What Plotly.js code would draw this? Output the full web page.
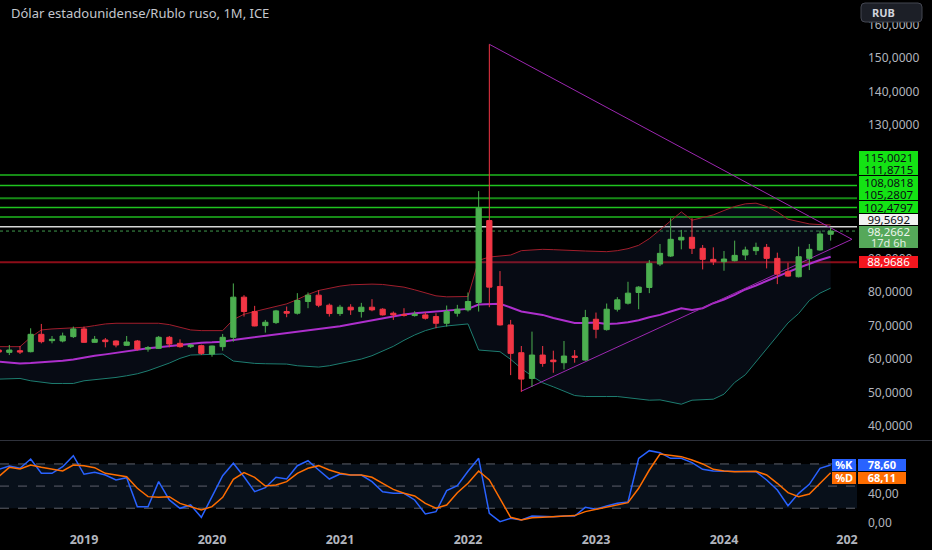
<!DOCTYPE html>
<html><head><meta charset="utf-8">
<script src="https://cdn.plot.ly/plotly-3.0.1.min.js"></script>
<style>html,body{margin:0;padding:0;background:#000;}#chart{width:932px;height:550px;}</style>
</head><body><div id="chart"></div>
<script>
// ---------- DATA ----------
const title = 'Dólar estadounidense/Rublo ruso, 1M, ICE';
const months = [
 '2018-05','2018-06','2018-07','2018-08','2018-09','2018-10','2018-11','2018-12',
 '2019-01','2019-02','2019-03','2019-04','2019-05','2019-06','2019-07','2019-08','2019-09','2019-10','2019-11','2019-12',
 '2020-01','2020-02','2020-03','2020-04','2020-05','2020-06','2020-07','2020-08','2020-09','2020-10','2020-11','2020-12',
 '2021-01','2021-02','2021-03','2021-04','2021-05','2021-06','2021-07','2021-08','2021-09','2021-10','2021-11','2021-12',
 '2022-01','2022-02','2022-03','2022-04','2022-05','2022-06','2022-07','2022-08','2022-09','2022-10','2022-11','2022-12',
 '2023-01','2023-02','2023-03','2023-04','2023-05','2023-06','2023-07','2023-08','2023-09','2023-10','2023-11','2023-12',
 '2024-01','2024-02','2024-03','2024-04','2024-05','2024-06','2024-07','2024-08','2024-09','2024-10','2024-11'];
const open = [
 62.7,62.0,62.5,62.2,67.4,65.5,65.4,66.7,
 69.0,65.0,65.7,65.4,64.1,65.4,63.0,63.2,66.5,64.7,63.7,64.0,
 61.5,63.7,66.5,78.5,74.2,70.0,70.9,74.2,73.7,77.2,79.1,76.1,
 73.6,75.5,74.2,75.5,74.9,73.7,73.3,73.0,73.2,72.7,70.7,73.7,
 74.7,76.9,101.4,81.7,70.2,61.9,54.2,61.2,59.7,58.9,60.9,59.7,
 71.9,68.8,74.9,76.7,79.9,81.4,88.4,90.8,95.6,96.4,93.1,89.8,
 89.1,89.4,91.1,92.4,93.4,90.1,86.1,84.6,90.1,92.6,97.3];
const high = [
 63.0,64.2,63.9,69.2,70.5,66.9,67.9,69.7,
 69.7,66.9,66.3,65.6,66.9,65.7,63.9,66.9,66.9,65.9,64.5,64.3,
 64.0,67.5,82.6,79.1,75.9,71.7,74.7,75.7,79.7,79.9,80.6,76.6,
 76.2,76.4,76.8,77.9,75.2,74.2,75.2,74.3,74.0,73.7,76.0,76.2,
 79.9,110.2,154.1,86.3,71.7,63.9,68.2,63.9,62.5,65.4,62.7,74.7,
 73.9,76.6,78.5,83.1,81.8,89.6,94.4,102.1,98.6,102.1,94.1,93.4,
 92.3,95.4,93.6,94.8,94.4,91.8,88.8,93.6,94.4,98.4,99.4];
const low = [
 61.8,61.2,61.5,62.0,64.7,64.7,65.0,66.3,
 64.9,64.9,63.5,63.5,63.9,62.5,62.2,63.0,63.5,63.4,63.3,61.2,
 60.7,62.5,65.2,72.7,69.8,67.9,70.5,72.5,73.3,75.2,75.5,72.7,
 72.9,73.2,72.4,74.3,73.0,71.7,72.7,72.7,71.8,69.2,69.7,72.7,
 74.2,74.2,75.5,70.0,55.2,50.2,51.7,57.7,55.9,56.9,58.9,59.5,
 66.2,68.5,74.2,76.3,74.9,79.7,87.8,90.5,92.8,91.4,86.8,88.1,
 86.4,89.2,89.6,91.1,87.1,82.4,84.6,84.4,86.6,92.4,95.4];
const close = [
 62.1,62.7,62.1,67.4,65.2,65.9,66.9,69.0,
 65.0,65.9,65.2,64.2,65.1,63.0,63.4,66.5,64.5,63.7,64.2,61.7,
 63.9,66.5,78.5,74.2,69.9,71.0,74.4,73.7,77.5,79.1,76.1,73.6,
 75.5,74.7,75.5,74.7,73.2,73.2,73.1,73.4,72.2,70.7,74.2,74.9,
 77.2,105.1,81.5,70.2,61.7,54.0,61.2,58.7,59.2,60.9,60.5,72.4,
 68.9,74.9,77.7,79.7,81.5,88.6,91.6,95.8,96.4,93.1,89.8,89.1,
 89.9,91.0,92.6,93.4,90.1,85.4,84.8,90.6,92.8,97.4,98.2662];
const bbUpper = [
 63.7,63.7,63.7,66.5,68.7,69.0,69.2,69.2,
 69.5,70.0,70.5,70.7,70.7,70.7,70.7,70.7,70.3,69.5,68.7,68.5,
 68.4,68.5,71.8,73.4,74.2,74.9,75.7,76.5,77.8,79.3,80.5,81.2,
 81.8,82.2,82.4,82.4,82.3,82.0,81.5,80.7,79.8,78.9,78.6,78.6,
 78.7,89.5,90.5,90.8,91.1,92.4,92.7,92.8,92.7,92.5,92.4,92.3,
 92.2,92.1,92.4,93.0,94.0,96.0,98.6,101.2,104.0,101.5,102.3,103.1,
 104.4,105.6,106.4,106.6,105.6,104.0,101.8,101.0,100.4,100.2,100.1];
const bbBasis = [
 59.2,59.0,58.7,58.8,59.0,59.2,59.5,59.9,
 60.5,61.0,61.4,61.9,62.4,62.8,63.2,63.5,63.9,64.3,64.7,64.9,
 65.0,65.2,65.7,66.1,66.6,67.0,67.3,67.7,68.0,68.6,69.0,69.2,
 69.8,70.4,71.0,71.5,72.2,72.8,73.3,73.7,74.0,74.3,74.6,74.8,
 75.0,76.3,76.5,76.5,75.4,74.2,73.7,73.2,72.3,71.6,70.8,70.8,
 70.9,70.5,70.6,71.0,71.6,72.5,73.2,74.2,75.2,74.7,75.2,76.7,
 77.8,79.2,80.8,82.0,83.4,84.7,86.0,87.3,88.5,89.6,90.6];
const bbLower = [
 54.0,54.1,54.2,53.5,53.0,52.7,52.7,52.7,
 53.5,53.8,54.2,54.5,55.0,55.6,56.5,57.6,58.8,60.2,61.2,61.3,
 61.4,61.5,59.4,59.0,58.7,58.6,58.5,58.5,58.0,57.8,57.6,58.0,
 58.6,59.3,60.0,61.0,62.4,63.8,65.6,67.2,68.5,69.4,69.9,70.2,
 70.5,62.7,62.4,62.2,59.9,57.2,54.9,52.9,51.7,50.5,49.1,48.8,
 48.9,48.8,48.8,48.5,48.0,47.7,47.8,47.2,46.5,47.7,47.9,48.0,
 49.5,53.0,55.3,59.2,63.0,66.7,70.8,73.6,77.5,79.7,81.2];
const stochK = [
 72.7,77.2,74.1,86.7,67.3,67.3,76.3,91.2,
 66.0,68.7,65.0,58.3,61.4,22.1,22.1,56.0,31.2,19.9,24.4,7.7,
 35.6,64.1,80.9,62.7,42.4,47.8,61.9,59.6,77.6,84.4,71.8,59.6,
 66.4,65.0,65.0,56.0,42.4,40.2,40.2,31.2,12.2,15.3,43.8,50.5,
 70.0,87.6,13.0,1.8,6.3,4.1,9.5,8.6,8.6,9.5,9.5,21.2,
 18.5,23.0,26.6,28.5,87.6,98.0,95.3,87.6,87.6,81.8,72.7,70.5,
 70.5,69.6,70.5,69.6,58.3,44.7,23.5,40.2,52.4,74.1,78.60];
const stochD = [
 62.8,75.4,73.2,78.6,75.4,73.2,70.5,78.6,
 77.7,75.0,67.3,65.0,62.8,47.0,35.7,34.8,35.7,26.6,22.1,17.6,
 22.1,34.8,59.2,68.2,61.9,50.1,51.5,56.0,67.3,74.1,77.7,71.8,
 67.3,65.0,65.0,61.9,53.8,45.6,40.2,36.6,26.6,19.9,24.4,41.1,
 53.8,70.5,58.3,33.4,7.7,4.1,7.2,7.7,8.6,9.5,10.0,15.4,
 18.5,20.8,24.4,27.6,47.0,71.8,93.5,92.1,89.9,85.4,80.0,72.7,
 70.5,69.6,70.0,70.0,65.0,53.8,41.1,35.7,39.3,53.8,68.11];
const stochLevels = [20, 50, 80];
const stochTicks = [0, 40];
const priceTicks = [40, 50, 60, 70, 80, 90, 130, 140, 150, 160];
const greenLevels = [115.0021, 111.8715, 108.0818, 105.2807, 102.4797];
const whiteLevel = 99.5692;
const redLevel = 88.9686;
const lastPrice = 98.2662;
const countdown = '17d 6h';
const currency = 'RUB';
// triangle drawing: [month, price]
const triMonths = ['2022-03', '2025-01', '2022-06'];
const triPrices = [154.1, 95.8, 50.4];
const yearLabels = ['2019','2020','2021','2022','2023','2024','202'];

// ---------- HELPERS ----------
const mIdx = s => { const [y, m] = s.split('-').map(Number); return (y - 2019) * 12 + (m - 1); };
const xs = months.map(mIdx);
const fmt = (v, d) => v.toFixed(d).replace('.', ',');
const W = 932, H = 550, ML = 0, MR = 75, MT = 0, MB = 20;
const PW = W - ML - MR, PH = H - MT - MB;
const PX = px => (px - ML) / PW;
const PY = py => (PH + MT - py) / PH;
const FONT = "'Noto Sans', 'DejaVu Sans', sans-serif";
const GREEN = '#4caf50', RED = '#f23645';

const priceRange = [35.80, 167.34];
const stochRange = [-9.5, 111.1];
const xRange = [-7.875, 72.47];

const traces = [
  {x: xs, y: bbLower, type: 'scatter', mode: 'lines', line: {color: '#1d7d70', width: 1}, hoverinfo: 'skip'},
  {x: xs, y: bbUpper, type: 'scatter', mode: 'lines', fill: 'tonexty', fillcolor: 'rgba(40,60,110,0.18)',
   line: {color: '#a11e2c', width: 1}, hoverinfo: 'skip'},
  {x: xs, y: bbBasis, type: 'scatter', mode: 'lines', line: {color: '#ad2fcc', width: 2}, hoverinfo: 'skip'},
  {x: triMonths.map(mIdx), y: triPrices, type: 'scatter', mode: 'lines', line: {color: '#9c27b0', width: 1}, hoverinfo: 'skip'},
  {x: xs, open: open, high: high, low: low, close: close, type: 'candlestick', yaxis: 'y3',
   increasing: {line: {color: GREEN, width: 1}, fillcolor: GREEN},
   decreasing: {line: {color: RED, width: 1}, fillcolor: RED},
   whiskerwidth: 0, hoverinfo: 'skip'},
  {x: xs, y: stochK, yaxis: 'y2', type: 'scatter', mode: 'lines', line: {color: '#2962ff', width: 1.5}, hoverinfo: 'skip'},
  {x: xs, y: stochD, yaxis: 'y2', type: 'scatter', mode: 'lines', line: {color: '#ff6d00', width: 1.5}, hoverinfo: 'skip'}
];

const shapes = [];
shapes.push({type: 'rect', xref: 'paper', x0: 0, x1: 1, yref: 'y2', y0: stochLevels[0], y1: stochLevels[2],
  fillcolor: '#08101a', line: {width: 0}, layer: 'below'});
stochLevels.forEach(v => shapes.push({type: 'line', xref: 'paper', x0: 0, x1: 1, yref: 'y2', y0: v, y1: v,
  line: {color: '#5d606b', width: 1, dash: 'dash'}, layer: 'below'}));
greenLevels.forEach((v, i) => shapes.push({type: 'line', xref: 'paper', x0: 0, x1: 1, yref: 'y', y0: v, y1: v,
  line: {color: i % 2 === 0 ? '#168a16' : '#1fc41f', width: i % 2 === 0 ? 2 : 1.5}, layer: 'below'}));
shapes.push({type: 'line', xref: 'paper', x0: 0, x1: 1, yref: 'y', y0: redLevel, y1: redLevel,
  line: {color: '#8c0d18', width: 2}, layer: 'below'});
shapes.push({type: 'line', xref: 'paper', x0: 0, x1: 1, yref: 'y', y0: whiteLevel, y1: whiteLevel,
  line: {color: '#d6d6d6', width: 1.5}, layer: 'below'});
shapes.push({type: 'line', xref: 'paper', x0: 0, x1: 1, yref: 'y', y0: lastPrice, y1: lastPrice,
  line: {color: '#3f9a4c', width: 1, dash: 'dot'}, layer: 'below'});
shapes.push({type: 'line', xref: 'paper', yref: 'paper', x0: 0, x1: PX(W), y0: PY(440.5), y1: PY(440.5),
  line: {color: '#2f323c', width: 1}, layer: 'above'});
(function () {
  const x0 = 861, x1 = 922, y0 = 3, y1 = 22, r = 4;
  const p = (a, b) => PX(a) + ',' + PY(b);
  const path = `M ${p(x0 + r, y0)} L ${p(x1 - r, y0)} Q ${p(x1, y0)} ${p(x1, y0 + r)} L ${p(x1, y1 - r)} Q ${p(x1, y1)} ${p(x1 - r, y1)} L ${p(x0 + r, y1)} Q ${p(x0, y1)} ${p(x0, y1 - r)} L ${p(x0, y0 + r)} Q ${p(x0, y0)} ${p(x0 + r, y0)} Z`;
  shapes.push({type: 'path', xref: 'paper', yref: 'paper', path: path, fillcolor: '#1c1f27',
    line: {color: '#434651', width: 1}, layer: 'above'});
})();

const annotations = [];
const box = (text, cx, cy, w, h, bg, color, size, weight) => annotations.push({
  xref: 'paper', yref: 'paper', x: PX(cx), y: PY(cy), xanchor: 'center', yanchor: 'middle',
  text: text, showarrow: false, bgcolor: bg, width: w, height: h, borderpad: 0, borderwidth: 0,
  align: 'center', valign: 'middle',
  font: {family: FONT, size: size || 11.5, color: color, weight: weight || 'normal'}
});
annotations.push({xref: 'paper', yref: 'paper', x: PX(9), y: PY(12.5), xanchor: 'left', yanchor: 'middle',
  text: title, showarrow: false, font: {family: FONT, size: 13, color: '#c3c6cd'}});
annotations.push({xref: 'paper', yref: 'paper', x: PX(883.5), y: PY(12.5), xanchor: 'center', yanchor: 'middle',
  text: currency, showarrow: false, font: {family: FONT, size: 11, color: '#d1d4dc', weight: 'bold'}});
greenLevels.forEach((v, i) => box(fmt(v, 4), 888, 157 + 12.4 * i, 59.4, 12.4, '#14e314', '#0b0e14', 11.5));
box(fmt(whiteLevel, 4), 888, 219, 59.4, 11, '#f2f2f2', '#0b0e14', 11.5);
box(fmt(lastPrice, 4), 888, 231.2, 59.4, 11.2, '#55a85a', '#eef6ee', 11.5);
box(countdown, 888, 242.2, 59.4, 10.8, '#55a85a', '#e2efe2', 11);
box(fmt(redLevel, 4), 888, 262.5, 59.4, 11.6, '#f4161e', '#ffffff', 11.5);
box('%K', 843.9, 465.2, 24.3, 11.7, '#2962ff', '#ffffff', 11, 'bold');
box(fmt(stochK[stochK.length - 1], 2), 881.5, 465.2, 47.6, 11.7, '#2962ff', '#ffffff', 11, 'bold');
box('%D', 843.9, 477.5, 24.3, 11.7, '#ff6d00', '#ffffff', 11, 'bold');
box(fmt(stochD[stochD.length - 1], 2), 881.5, 477.5, 47.6, 11.7, '#ff6d00', '#ffffff', 11, 'bold');

const tickVals = yearLabels.map((t, i) => i < 6 ? i * 12 : 71.53);

const layout = {
  width: W, height: H, paper_bgcolor: '#000000', plot_bgcolor: '#000000',
  margin: {l: ML, r: MR, t: MT, b: MB, pad: 0}, showlegend: false, separators: ',.',
  font: {family: FONT, size: 12, color: '#b2b5be'},
  xaxis: {range: xRange, anchor: 'y2', showgrid: false, zeroline: false, showline: false, ticks: '',
    tickvals: tickVals, ticktext: yearLabels, rangeslider: {visible: false},
    tickfont: {family: FONT, size: 12.5, color: '#b2b5be', weight: 'bold'}, fixedrange: true},
  yaxis: {domain: [PY(440), 1], range: priceRange, side: 'right', anchor: 'x', showgrid: false, zeroline: false,
    showline: false, ticks: '', tickvals: priceTicks, tickformat: '.4f', ticklabelstandoff: 10,
    tickfont: {family: FONT, size: 12, color: '#b2b5be'}},
  yaxis3: {overlaying: 'y', range: priceRange, anchor: 'x', visible: false, showgrid: false, zeroline: false},
  yaxis2: {domain: [0, PY(441)], range: stochRange, side: 'right', anchor: 'x', showgrid: false, zeroline: false,
    showline: false, ticks: '', tickvals: stochTicks, tickformat: '.2f', ticklabelstandoff: 10,
    tickfont: {family: FONT, size: 12, color: '#b2b5be'}},
  shapes: shapes, annotations: annotations
};

Plotly.newPlot('chart', traces, layout, {staticPlot: true, displayModeBar: false});
</script></body></html>
